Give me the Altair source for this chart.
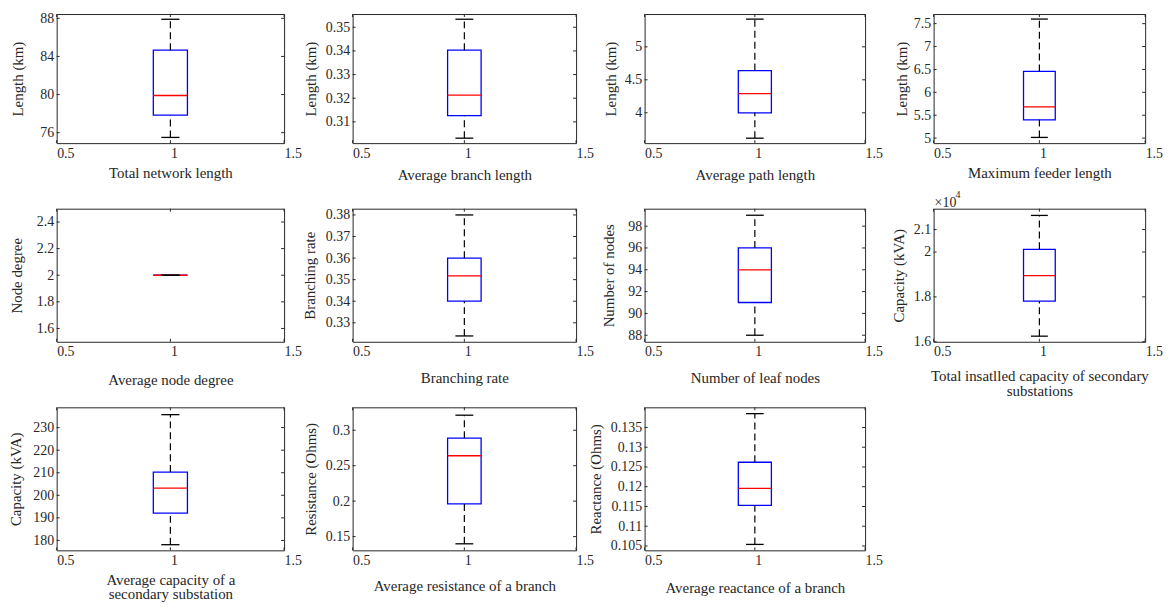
import altair as alt
import pandas as pd

# ---------------- data ----------------
x_titles = [
    "Total network length", "Average branch length", "Average path length",
    "Maximum feeder length", "Average node degree", "Branching rate",
    "Number of leaf nodes",
    ["Total insatlled capacity of secondary", "substations"],
    ["Average capacity of a", "secondary substation"],
    "Average resistance of a branch", "Average reactance of a branch",
]
y_titles = [
    "Length (km)", "Length (km)", "Length (km)", "Length (km)",
    "Node degree", "Branching rate", "Number of nodes", "Capacity (kVA)",
    "Capacity (kVA)", "Resistance (Ohms)", "Reactance (Ohms)",
]
positions = [1, 1, 1, 1, 1, 1, 1, 1, 1, 1, 1]
mins    = [75.5, 0.3031, 3.615, 5.015, 2.0, 0.3239, 88, 16250, 178.1, 0.1398, 0.1054]
q1s     = [77.83, 0.3126, 4.0, 5.40, 2.0, 0.34, 91, 17810, 192.1, 0.1961, 0.1153]
medians = [79.9, 0.3213, 4.292, 5.683, 2.0, 0.3518, 94, 18950, 203.2, 0.264, 0.1196]
q3s     = [84.66, 0.3403, 4.64, 6.457, 2.0, 0.36, 96, 20120, 210.3, 0.2889, 0.1262]
maxs    = [87.9, 0.3534, 5.42, 7.60, 2.0, 0.38, 99, 21630, 235.75, 0.3212, 0.1385]

y_lo = [74.9, 0.301, 3.54, 4.89, 1.5, 0.3212, 87.4, 16000, 175.6, 0.1306, 0.1039]
y_hi = [88.45, 0.3556, 5.497, 7.71, 2.5, 0.3829, 99.6, 21930, 239.0, 0.3323, 0.1401]
y_ticks = [
    [76, 80, 84, 88],
    [0.31, 0.32, 0.33, 0.34, 0.35],
    [4, 4.5, 5],
    [5, 5.5, 6, 6.5, 7, 7.5],
    [1.6, 1.8, 2, 2.2, 2.4],
    [0.33, 0.34, 0.35, 0.36, 0.37, 0.38],
    [88, 90, 92, 94, 96, 98],
    [16000, 18000, 20000, 21000],
    [180, 190, 200, 210, 220, 230],
    [0.15, 0.2, 0.25, 0.3],
    [0.105, 0.11, 0.115, 0.12, 0.125, 0.13, 0.135],
]
x_range = [0.5, 1.5]
x_ticks = [0.5, 1, 1.5]

# ---------------- layout / style ----------------
FONT = "Liberation Serif"
TXT = "#262626"
col_w = [229, 225, 222, 213]
row_h = [130, 134, 144]
x_title_y = [35, 37, 37, 35, 43, 41, 41, 39, 34, 40, 42]
y_title_x = [-34, -37, -29, -27, -35, -38, -31, -30, -36, -37, -44]
BOX_HALF = 0.075
CAP_HALF = 0.04
TICK = 3


def panel(i):
    w = col_w[i % 4]
    h = row_h[i // 4]
    d = pd.DataFrame({
        "pos": [positions[i]], "mn": [mins[i]], "q1": [q1s[i]],
        "med": [medians[i]], "q3": [q3s[i]], "mx": [maxs[i]],
    })
    xs = alt.Scale(domain=x_range, nice=False, zero=False)
    ys = alt.Scale(domain=[y_lo[i], y_hi[i]], nice=False, zero=False)

    common = dict(
        labelFont=FONT, labelFontSize=14, labelColor=TXT,
        titleFont=FONT, titleFontSize=15, titleFontWeight="normal", titleColor=TXT,
        labelOverlap=False, labelFlush=False,
    )
    ax_x = alt.Axis(
        values=x_ticks, labelExpr="format(datum.value, '~g')",
        labelAlign="left", labelBaseline="top", labelPadding=3, labelBound=False,
        title=x_titles[i], titleX=w / 2, titleY=x_title_y[i],
        titleAlign="center", titleBaseline="alphabetic", titleLineHeight=15,
        **common,
    )
    if i == 7:
        ylab = "format(datum.value / 10000, '~g')"
    else:
        ylab = "format(datum.value, '~g')"
    ax_y = alt.Axis(
        values=y_ticks[i], labelExpr=ylab, labelPadding=3,
        title=y_titles[i], titleX=y_title_x[i], titleY=h / 2,
        titleAlign="center", titleBaseline="alphabetic", titleAngle=270,
        **common,
    )

    def X(f):
        return alt.X(f, scale=xs, axis=ax_x)

    def Y(f):
        return alt.Y(f, scale=ys, axis=ax_y)

    base = alt.Chart(d).transform_calculate(
        b_lo=f"datum.pos - {BOX_HALF}", b_hi=f"datum.pos + {BOX_HALF}",
        c_lo=f"datum.pos - {CAP_HALF}", c_hi=f"datum.pos + {CAP_HALF}",
    )

    box = base.mark_rect(fillOpacity=0, stroke="#0000FF", strokeWidth=1.3).encode(
        x=X("b_lo:Q"), x2="b_hi:Q", y=Y("q1:Q"), y2="q3:Q")
    med = base.mark_rule(color="#FF0000", strokeWidth=1.3).encode(
        x=X("b_lo:Q"), x2="b_hi:Q", y=Y("med:Q"))
    wh_hi = base.mark_rule(color="black", strokeWidth=1.2, strokeDash=[7, 4]).encode(
        x=X("pos:Q"), y=Y("q3:Q"), y2="mx:Q")
    wh_lo = base.mark_rule(color="black", strokeWidth=1.2, strokeDash=[7, 4]).encode(
        x=X("pos:Q"), y=Y("mn:Q"), y2="q1:Q")
    cap_hi = base.mark_rule(color="black", strokeWidth=1.3).encode(
        x=X("c_lo:Q"), x2="c_hi:Q", y=Y("mx:Q"))
    cap_lo = base.mark_rule(color="black", strokeWidth=1.3).encode(
        x=X("c_lo:Q"), x2="c_hi:Q", y=Y("mn:Q"))

    yt = alt.Chart(pd.DataFrame({"t": y_ticks[i]}))
    xt = alt.Chart(pd.DataFrame({"t": x_ticks}))
    tick_l = yt.mark_rule(color=TXT, strokeWidth=1).encode(
        y=Y("t:Q"), x=alt.value(0), x2=alt.value(TICK))
    tick_r = yt.mark_rule(color=TXT, strokeWidth=1).encode(
        y=Y("t:Q"), x=alt.value(w - TICK), x2=alt.value(w))
    tick_b = xt.mark_rule(color=TXT, strokeWidth=1).encode(
        x=X("t:Q"), y=alt.value(h - TICK), y2=alt.value(h))
    tick_t = xt.mark_rule(color=TXT, strokeWidth=1).encode(
        x=X("t:Q"), y=alt.value(0), y2=alt.value(TICK))

    layers = [box, med, wh_hi, wh_lo, cap_hi, cap_lo, tick_l, tick_r, tick_b, tick_t]
    if i == 7:
        layers.append(alt.Chart(d).mark_text(
            text="×10", align="left", baseline="alphabetic", font=FONT,
            fontSize=14, color=TXT).encode(x=alt.value(1), y=alt.value(-2)))
        layers.append(alt.Chart(d).mark_text(
            text="4", align="left", baseline="alphabetic", font=FONT,
            fontSize=10, color=TXT).encode(x=alt.value(22), y=alt.value(-11)))
    return alt.layer(*layers).properties(width=w, height=h)


panels = [panel(i) for i in range(len(x_titles))]

chart = alt.concat(
    *panels, columns=4, bounds="flush", align="each",
    spacing=alt.RowColnumber(row=66, column=69),
).properties(
    padding={"left": 0, "top": 0, "right": 5, "bottom": 5},
    background="white",
).configure_view(
    stroke=TXT, strokeWidth=1,
).configure_axis(
    labelFont=FONT, labelFontSize=14, labelColor=TXT,
    titleFont=FONT, titleFontSize=15, titleFontWeight="normal", titleColor=TXT,
    domain=False, ticks=False, tickSize=0, grid=False,
)

chart.save("out.html", embed_options={"renderer": "svg", "actions": False})
